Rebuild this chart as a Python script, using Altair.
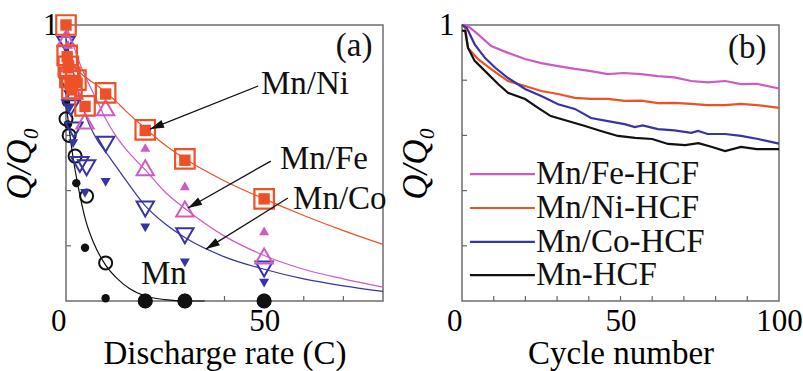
import math
import altair as alt
import pandas as pd

FONT = "Times New Roman, Liberation Serif, DejaVu Serif, serif"
ORANGE = "#ef5126"
MAGENTA = "#cf5ac2"
BLUE = "#3535a6"
BLACK = "#111111"

# ---------------- Panel (a): rate capability ----------------
ni_open_x = [0, 0.3, 0.6, 1.0, 1.5, 2.5, 4.8, 10, 20, 30, 50]
ni_open_y = [1.0, 0.89, 0.85, 0.81, 0.77, 0.80, 0.707, 0.754, 0.62, 0.515, 0.37]
ni_fill_x = [0, 0.3, 0.6, 1.0, 1.5, 2.5, 4.8, 10, 20, 30, 50]
ni_fill_y = [1.0, 0.885, 0.845, 0.80, 0.765, 0.795, 0.705, 0.75, 0.618, 0.51, 0.37]

fe_open_x = [0, 0.8, 2.0, 4.8, 10, 20, 30, 50]
fe_open_y = [0.95, 0.86, 0.76, 0.652, 0.70, 0.483, 0.333, 0.163]
fe_fill_x = [0, 0.5, 1.0, 20, 30, 50]
fe_fill_y = [0.97, 0.93, 0.88, 0.556, 0.417, 0.254]

co_open_x = [0, 0.6, 1.2, 2.0, 3.5, 5.2, 10, 20, 30, 50]
co_open_y = [0.93, 0.78, 0.70, 0.62, 0.495, 0.483, 0.568, 0.333, 0.236, 0.116]
co_fill_x = [0, 0.5, 1.0, 1.8, 4.8, 10, 20, 30, 50]
co_fill_y = [1.0, 0.75, 0.70, 0.57, 0.39, 0.43, 0.265, 0.138, 0.065]

mn_open_x = [0, 0.8, 2.3, 5.2, 10, 20, 30, 50]
mn_open_y = [0.66, 0.60, 0.525, 0.38, 0.138, 0, 0, 0]
mn_fill_x = [0, 0.5, 2.6, 4.8, 10]
mn_fill_y = [0.72, 0.64, 0.427, 0.193, 0.01]
mn_big_x = [20, 30, 50]
mn_big_y = [0, 0, 0]

ni_fit_x = [0, 2, 5, 7.5, 10, 12.5, 15, 20, 25, 30, 40, 50, 60, 70, 80]
ni_fit_y = [0.9, 0.85, 0.81, 0.785, 0.755, 0.725, 0.69, 0.625, 0.565, 0.515, 0.435, 0.37, 0.31, 0.255, 0.205]
fe_fit_x = [0, 2, 3.5, 5, 7.5, 10, 12.5, 15, 20, 25, 30, 40, 50, 60, 70, 80]
fe_fit_y = [1.0, 0.92, 0.86, 0.81, 0.736, 0.66, 0.6, 0.552, 0.475, 0.395, 0.335, 0.235, 0.165, 0.115, 0.08, 0.05]
co_fit_x = [0, 2, 4, 6, 8, 10, 15, 20, 25, 30, 40, 50, 60, 70, 80]
co_fit_y = [0.95, 0.82, 0.71, 0.635, 0.58, 0.54, 0.44, 0.345, 0.28, 0.23, 0.16, 0.115, 0.08, 0.055, 0.035]
mn_fit_x = [0, 1, 2, 3, 5, 7, 10, 13, 16, 20, 25, 30, 35]
mn_fit_y = [0.72, 0.6, 0.5, 0.42, 0.29, 0.21, 0.13, 0.08, 0.045, 0.018, 0.005, 0.0, 0.0]

a_labels = ["Mn/Ni", "Mn/Fe", "Mn/Co", "Mn", "(a)"]
a_label_x = [49.2, 54.0, 57.3, 18.9, 68.1]
a_label_y = [0.786, 0.514, 0.37, 0.098, 0.924]

arrow_x1 = [48.5, 51.7, 56.0]
arrow_y1 = [0.779, 0.507, 0.373]
arrow_x2 = [21.2, 30.8, 35.3]
arrow_y2 = [0.623, 0.337, 0.188]

a_xticks = [10, 20, 30, 40, 50, 60, 70]
a_yticks = [0.2, 0.4, 0.6, 0.8]

# ---------------- Panel (b): cycling ----------------
fe_cyc_x = [0, 1.9, 5, 9.2, 14.5, 19.9, 25, 30.3, 35.6, 40.7, 46, 51, 56.5, 61.8, 67, 72.3, 77.5, 83, 88, 93, 100]
fe_cyc_y = [1.0, 0.996, 0.967, 0.924, 0.899, 0.877, 0.862, 0.851, 0.841, 0.833, 0.822, 0.826, 0.822, 0.815, 0.81, 0.797, 0.792, 0.797, 0.786, 0.787, 0.77]
ni_cyc_x = [0, 1, 1.9, 5, 9.2, 14.5, 19.9, 25, 30.3, 35.6, 40.7, 46, 51.3, 56.5, 61.8, 67, 72.3, 77.5, 83, 88, 93, 100]
ni_cyc_y = [1.0, 0.99, 0.917, 0.877, 0.84, 0.797, 0.779, 0.761, 0.75, 0.736, 0.732, 0.732, 0.725, 0.726, 0.717, 0.718, 0.714, 0.71, 0.71, 0.714, 0.71, 0.70]
co_cyc_x = [0, 1.5, 4, 7.3, 10.5, 14.5, 17, 19.9, 25, 30.3, 35.6, 40.7, 46, 51.3, 54.5, 57, 61.8, 67, 72.3, 74.5, 77.5, 83, 88, 93.4, 100]
co_cyc_y = [1.0, 0.99, 0.93, 0.88, 0.845, 0.808, 0.79, 0.768, 0.743, 0.713, 0.696, 0.663, 0.652, 0.641, 0.63, 0.636, 0.623, 0.618, 0.609, 0.616, 0.605, 0.605, 0.598, 0.587, 0.57]
mn_cyc_x = [0, 1, 1.9, 4, 7.3, 11.4, 14.5, 19.9, 24, 28, 33.4, 38.8, 43.8, 49.2, 54.6, 60, 65, 70.4, 74.6, 78.9, 83, 88, 93, 100]
mn_cyc_y = [0.98, 0.978, 0.917, 0.87, 0.833, 0.786, 0.754, 0.732, 0.70, 0.67, 0.652, 0.634, 0.616, 0.598, 0.591, 0.587, 0.569, 0.565, 0.572, 0.558, 0.543, 0.558, 0.55, 0.55]

leg_labels = ["Mn/Fe-HCF", "Mn/Ni-HCF", "Mn/Co-HCF", "Mn-HCF"]
leg_colors = [MAGENTA, ORANGE, BLUE, BLACK]
leg_y = [0.46, 0.337, 0.214, 0.094]
leg_x1, leg_x2 = 2.5, 23.0

b_xticks = [10, 20, 30, 40, 50, 60, 70, 80, 90]
b_yticks = [0.2, 0.4, 0.6, 0.8]

W, H = 317, 276
TICK = 5

label_align = {"condition": {"test": "datum.value == 0", "value": "right"}, "value": "center"}


def mk_axes(xtitle, xvals):
    xax = alt.Axis(title=xtitle, values=xvals, ticks=False, domain=False, grid=False,
                   labelAlign=label_align, labelPadding=5, titlePadding=1,
                   labelFont=FONT, labelFontSize=31, titleFont=FONT, titleFontSize=33,
                   labelColor="black", titleColor="black", titleFontWeight="normal")
    yax = alt.Axis(title="Q/Q\u2080", values=[1], ticks=False, domain=False, grid=False,
                   labelPadding=8, titlePadding=5, labelFont=FONT, labelFontSize=31,
                   titleFont=FONT, titleFontSize=35, titleFontStyle="italic",
                   labelColor="black", titleColor="black", titleFontWeight="normal")
    return xax, yax


def panel(xdom, xtitle, xvals):
    xs = alt.Scale(domain=xdom, nice=False, zero=False)
    ys = alt.Scale(domain=[0, 1], nice=False, zero=False)
    xax, yax = mk_axes(xtitle, xvals)

    def X(f="x"):
        return alt.X(f + ":Q", scale=xs, axis=xax)

    def Y(f="y"):
        return alt.Y(f + ":Q", scale=ys, axis=yax)
    return xs, ys, X, Y


def df(x, y):
    return pd.DataFrame({"x": x, "y": y})


# ---- build panel (a) ----
xs, ys, X, Y = panel([0, 80], "Discharge rate (C)", [0, 50])
layers_a = []
layers_a.append(alt.Chart(pd.DataFrame({"t": a_xticks})).mark_rule(color="#666", strokeWidth=1.2)
                .encode(x=X("t"), y=alt.value(H), y2=alt.value(H - TICK)))
layers_a.append(alt.Chart(pd.DataFrame({"t": a_yticks})).mark_rule(color="#666", strokeWidth=1.2)
                .encode(y=Y("t"), x=alt.value(0), x2=alt.value(TICK)))
for fx, fy, col in [(mn_fit_x, mn_fit_y, BLACK), (co_fit_x, co_fit_y, BLUE),
                    (fe_fit_x, fe_fit_y, MAGENTA), (ni_fit_x, ni_fit_y, ORANGE)]:
    layers_a.append(alt.Chart(df(fx, fy)).mark_line(color=col, strokeWidth=1.2, interpolate="monotone")
                    .encode(x=X(), y=Y()))
# markers
layers_a.append(alt.Chart(df(mn_open_x, mn_open_y)).mark_point(shape="circle", filled=False, size=170, strokeWidth=2, color=BLACK, opacity=1).encode(x=X(), y=Y()))
layers_a.append(alt.Chart(df(mn_fill_x, mn_fill_y)).mark_point(shape="circle", filled=True, size=70, color=BLACK, opacity=1).encode(x=X(), y=Y()))
layers_a.append(alt.Chart(df(mn_big_x, mn_big_y)).mark_point(shape="circle", filled=True, size=210, color=BLACK, opacity=1).encode(x=X(), y=Y()))
layers_a.append(alt.Chart(df(co_open_x, co_open_y)).mark_point(shape="triangle-down", filled=False, size=300, strokeWidth=2, color=BLUE, opacity=1).encode(x=X(), y=Y()))
layers_a.append(alt.Chart(df(co_fill_x, co_fill_y)).mark_point(shape="triangle-down", filled=True, size=100, color=BLUE, opacity=1).encode(x=X(), y=Y()))
layers_a.append(alt.Chart(df(fe_open_x, fe_open_y)).mark_point(shape="triangle-up", filled=False, size=300, strokeWidth=2, color=MAGENTA, opacity=1).encode(x=X(), y=Y()))
layers_a.append(alt.Chart(df(fe_fill_x, fe_fill_y)).mark_point(shape="triangle-up", filled=True, size=100, color=MAGENTA, opacity=1).encode(x=X(), y=Y()))
layers_a.append(alt.Chart(df(ni_open_x, ni_open_y)).mark_point(shape="square", filled=False, size=380, strokeWidth=2.2, color=ORANGE, opacity=1).encode(x=X(), y=Y()))
layers_a.append(alt.Chart(df(ni_fill_x, ni_fill_y)).mark_point(shape="square", filled=True, size=130, color=ORANGE, opacity=1).encode(x=X(), y=Y()))

# arrows
sx, sy = W / 80.0, H / 1.0
ang = []
for x1, y1, x2, y2 in zip(arrow_x1, arrow_y1, arrow_x2, arrow_y2):
    dx = (x2 - x1) * sx
    dys = -(y2 - y1) * sy
    ang.append(math.degrees(math.atan2(dx, -dys)) % 360)
arr = pd.DataFrame({"x": arrow_x1, "y": arrow_y1, "x2": arrow_x2, "y2": arrow_y2, "ang": ang})
layers_a.append(alt.Chart(arr).mark_rule(color=BLACK, strokeWidth=1.3)
                .encode(x=X(), y=Y(), x2="x2:Q", y2="y2:Q"))
layers_a.append(alt.Chart(arr).mark_point(shape="M0,0L0.3,1L-0.3,1Z", filled=True, size=784, color=BLACK, opacity=1)
                .encode(x=X("x2"), y=Y("y2"), angle=alt.Angle("ang:Q", scale=None)))
layers_a.append(alt.Chart(pd.DataFrame({"x": a_label_x, "y": a_label_y, "t": a_labels}))
                .mark_text(font=FONT, fontSize=33, align="left", baseline="middle", color=BLACK)
                .encode(x=X(), y=Y(), text="t:N"))
chart_a = alt.layer(*layers_a).properties(width=W, height=H)

# ---- build panel (b) ----
xs, ys, X, Y = panel([0, 100], "Cycle number", [0, 50, 100])
layers_b = []
layers_b.append(alt.Chart(pd.DataFrame({"t": b_xticks})).mark_rule(color="#666", strokeWidth=1.2)
                .encode(x=X("t"), y=alt.value(H), y2=alt.value(H - TICK)))
layers_b.append(alt.Chart(pd.DataFrame({"t": b_yticks})).mark_rule(color="#666", strokeWidth=1.2)
                .encode(y=Y("t"), x=alt.value(0), x2=alt.value(TICK)))
for fx, fy, col in [(fe_cyc_x, fe_cyc_y, MAGENTA), (ni_cyc_x, ni_cyc_y, ORANGE),
                    (co_cyc_x, co_cyc_y, BLUE), (mn_cyc_x, mn_cyc_y, BLACK)]:
    layers_b.append(alt.Chart(df(fx, fy)).mark_line(color=col, strokeWidth=2.2)
                    .encode(x=X(), y=Y()))
leg = pd.DataFrame({"t": leg_labels, "c": leg_colors, "y": leg_y,
                    "x": [leg_x1] * 4, "x2": [leg_x2] * 4})
layers_b.append(alt.Chart(leg).mark_rule(strokeWidth=2.2)
                .encode(x=X(), x2="x2:Q", y=Y(), color=alt.Color("c:N", scale=None)))
layers_b.append(alt.Chart(leg).mark_text(font=FONT, fontSize=33, align="left", baseline="middle", color=BLACK, dx=1)
                .encode(x=X("x2"), y=Y(), text="t:N"))
layers_b.append(alt.Chart(pd.DataFrame({"x": [83.9], "y": [0.917], "t": ["(b)"]}))
                .mark_text(font=FONT, fontSize=33, align="left", baseline="middle", color=BLACK)
                .encode(x=X(), y=Y(), text="t:N"))
chart_b = alt.layer(*layers_b).properties(width=W, height=H)

chart = (alt.hconcat(chart_a, chart_b, spacing=9)
         .configure_view(stroke="#6e6e6e", strokeWidth=1.5)
         .properties(padding={"left": 1, "top": 8, "right": 0, "bottom": 0}, background="white"))

chart.save("out.html", embed_options={"renderer": "svg", "actions": False})
